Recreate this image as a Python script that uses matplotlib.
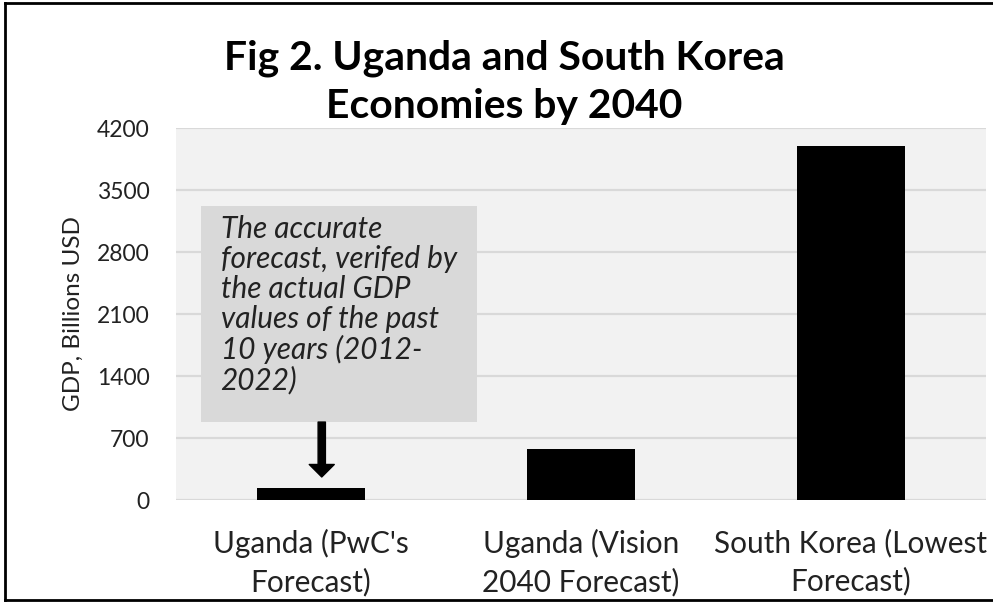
import numpy as np
import matplotlib.pyplot as plt
from matplotlib.patches import Rectangle
from matplotlib.lines import Line2D

plt.rcParams['font.family'] = ['Lato', 'DejaVu Sans']

categories = ["Uganda (PwC's\nForecast)", "Uganda (Vision\n2040 Forecast)", "South Korea (Lowest\nForecast)"]
gdp = [135, 575, 4000]
yticks = [0, 700, 1400, 2100, 2800, 3500, 4200]
note = "The accurate\nforecast, verifed by\nthe actual GDP\nvalues of the past\n10 years (2012-\n2022)"

fig = plt.figure(figsize=(9.93, 6.03), dpi=100)
fig.patch.set_facecolor('white')
ax = fig.add_axes([0.1772, 0.1708, 0.8157, 0.6169])
ax.set_facecolor('#F2F2F2')

x = np.arange(len(categories))
ax.bar(x, gdp, width=0.4, color='black', zorder=3)

ax.set_xlim(-0.5, len(categories) - 0.5)
ax.set_ylim(0, 4200)
ax.set_yticks(yticks)
ax.set_yticklabels([str(t) for t in yticks], fontsize=16.5, color='#222222')
ax.set_xticks(x)
ax.set_xticklabels(categories, fontsize=21.4, color='#222222', linespacing=1.38)
ax.tick_params(axis='both', length=0)
ax.tick_params(axis='x', pad=21)
ax.tick_params(axis='y', pad=19)
ax.grid(axis='y', color='#D9D9D9', linewidth=1.6, zorder=1)
ax.set_axisbelow(True)
for s in ax.spines.values():
    s.set_visible(False)

ax.set_ylabel('GDP, Billions USD', fontsize=17.5, color='#222222')
ax.yaxis.label.set_va('center')
ax.yaxis.set_label_coords(-0.127, 0.5)

# annotation box + arrow
ax.add_patch(Rectangle((-0.407, 880), 1.022, 2440, facecolor='#D9D9D9',
                       edgecolor='none', zorder=4))
ax.text(-0.335, 3215, note, fontsize=21.4, style='italic', color='#222222',
        va='top', ha='left', linespacing=1.08, zorder=5)
ax.annotate('', xy=(0.04, 260), xytext=(0.04, 880),
            arrowprops=dict(arrowstyle='simple,head_length=0.6,head_width=1.2,tail_width=0.35',
                            color='black', mutation_scale=15, shrinkA=0, shrinkB=0),
            zorder=5)

fig.text(0.508, 0.864, 'Fig 2. Uganda and South Korea\nEconomies by 2040', fontsize=29.4,
         fontweight='bold', ha='center', va='center', linespacing=1.35)

# chart border
for xs, ys in [([0.005, 0.005], [0.005, 0.995]), ([0.005, 1.0], [0.995, 0.995]),
               ([0.005, 1.0], [0.005, 0.005])]:
    fig.add_artist(Line2D(xs, ys, color='black', linewidth=2, transform=fig.transFigure))

fig.savefig('out.png', dpi=100)
